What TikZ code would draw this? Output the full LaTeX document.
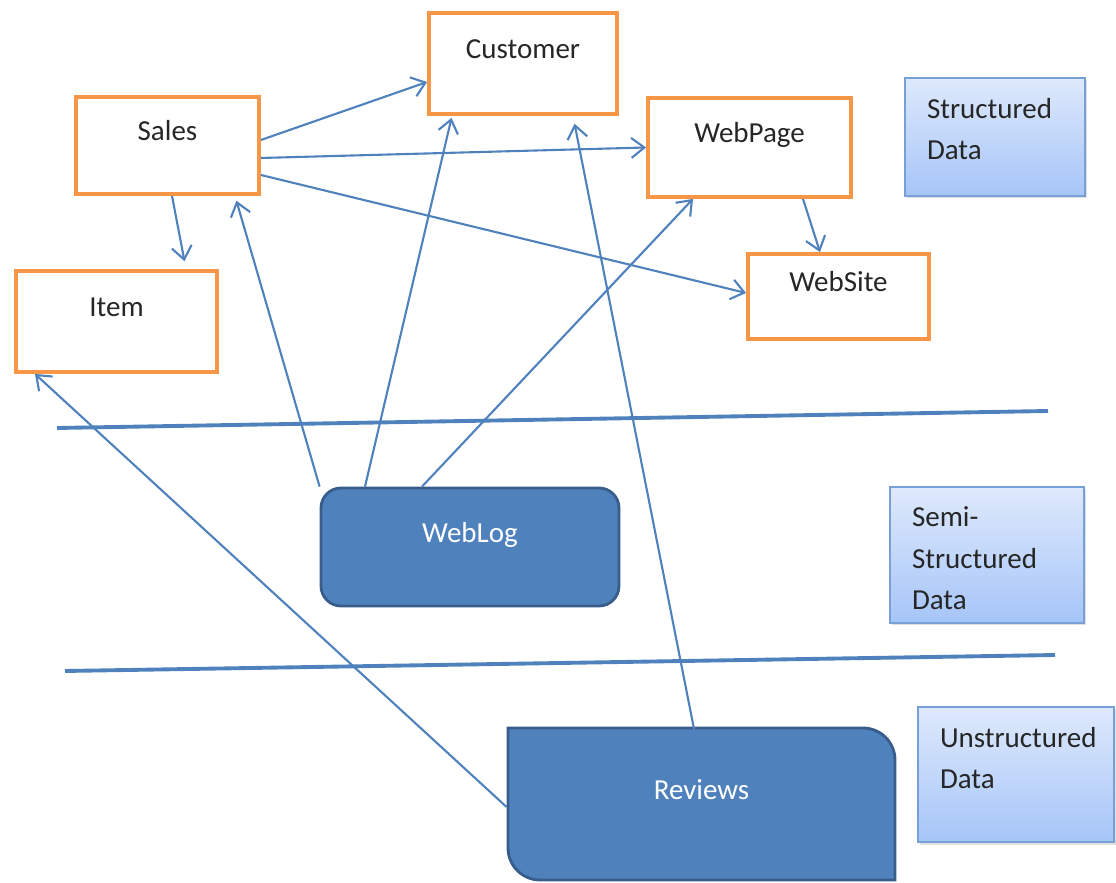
\documentclass[tikz,border=0pt]{standalone}
\usepackage{fontspec}
\setmainfont{Carlito}
\usetikzlibrary{arrows.meta,shadows}

\definecolor{boxorange}{RGB}{247,150,70}
\definecolor{lineblue}{RGB}{79,129,189}
\definecolor{darkblue}{RGB}{56,93,138}
\definecolor{legtop}{RGB}{222,233,252}
\definecolor{legbot}{RGB}{166,197,248}
\definecolor{legedge}{RGB}{120,160,215}

\tikzset{
    entity/.style={draw=boxorange, line width=2.2pt, fill=white, text=black!85,
        font=\fontsize{16.5}{20}\selectfont, text height=0.45cm, text depth=0.64cm, inner sep=0pt},
    source/.style={draw=darkblue, line width=1.6pt, fill=lineblue, text=white,
        font=\fontsize{16.5}{20}\selectfont, text height=0.45cm, text depth=0.64cm, inner sep=0pt},
    legend/.style={draw=legedge, line width=0.8pt, top color=legtop, bottom color=legbot,
        drop shadow={opacity=0.25, shadow xshift=0.04cm, shadow yshift=-0.05cm}},
    legtext/.style={anchor=north west, align=left, text=black!85,
        font=\fontsize{16.5}{23.5}\selectfont, xshift=0.33cm, yshift=-0.29cm},
    link/.style={draw=lineblue, line width=1.2pt, -{Straight Barb[length=2.6mm,width=4mm]}},
    divider/.style={draw=lineblue, line width=2.2pt}
}

\begin{document}
\begin{tikzpicture}
            \useasboundingbox (0,0) rectangle (22.32,17.64);

            \draw [divider] (1.14,9.08) -- (20.96,9.42);
            \draw [divider] (1.30,4.22) -- (21.10,4.54);

            \node [entity, minimum width=3.76cm, minimum height=2.02cm] (customer) at (10.46,16.37) {Customer};
            \node [entity, minimum width=3.66cm, minimum height=1.94cm] (sales) at (3.35,14.73) {Sales};
            \node [entity, minimum width=4.06cm, minimum height=1.98cm] (webpage) at (14.99,14.69) {WebPage};
            \node [entity, minimum width=3.62cm, minimum height=1.70cm] (website) at (16.77,11.71) {WebSite};
            \node [entity, minimum width=4.02cm, minimum height=2.02cm] (item) at (2.33,11.21) {Item};

            \node [source, rounded corners=0.4cm, minimum width=5.96cm, minimum height=2.36cm] (weblog) at (9.40,6.70) {WebLog};

            \draw [source] (10.16,3.08) -- (17.26,3.08) arc[start angle=90, end angle=0, radius=0.64]
                -- (17.90,0.04) -- (10.80,0.04) arc[start angle=270, end angle=180, radius=0.64] -- cycle;
            \node [source, draw=none, fill=none, minimum width=7.74cm, minimum height=3.04cm] (reviews) at (14.03,1.56) {Reviews};

            \node [legend, minimum width=3.60cm, minimum height=2.36cm,
                label={[legtext]north west:Structured\\Data}] (structured) at (19.90,14.90) {};
            \node [legend, minimum width=3.88cm, minimum height=2.72cm,
                label={[legtext]north west:Semi-\\Structured\\Data}] (semi) at (19.74,6.54) {};
            \node [legend, minimum width=3.92cm, minimum height=2.70cm,
                label={[legtext]north west:Unstructured\\Data}] (unstructured) at (20.32,2.15) {};

            \draw [link] ([yshift=0.11cm]sales.east) -- ([yshift=-0.37cm]customer.west);
            \draw [link] ([yshift=-0.25cm]sales.east) -- (webpage.west);
            \draw [link] ([yshift=-0.59cm]sales.east) -- ([yshift=0.07cm]website.west);
            \draw [link, shorten >=0.16cm] ([xshift=0.09cm]sales.south) -- ([xshift=1.39cm]item.north);
            \draw [link] ([xshift=1.07cm]webpage.south) -- ([xshift=-0.37cm]website.north);

            \draw [link, shorten >=0.1cm] (weblog.north west) -- ([xshift=1.35cm]sales.south);
            \draw [link, shorten >=0.04cm] ([xshift=-2.1cm]weblog.north) -- ([xshift=-1.42cm]customer.south);
            \draw [link] ([xshift=-0.96cm]weblog.north) -- ([xshift=-1.13cm]webpage.south);

            \draw [link] ([yshift=-0.06cm]reviews.west) -- ([xshift=-1.63cm]item.south);
            \draw [link, shorten >=0.16cm] ([xshift=-0.1cm,yshift=-0.3cm]reviews.north) -- ([xshift=1.0cm]customer.south);
        \end{tikzpicture}
\end{document}
